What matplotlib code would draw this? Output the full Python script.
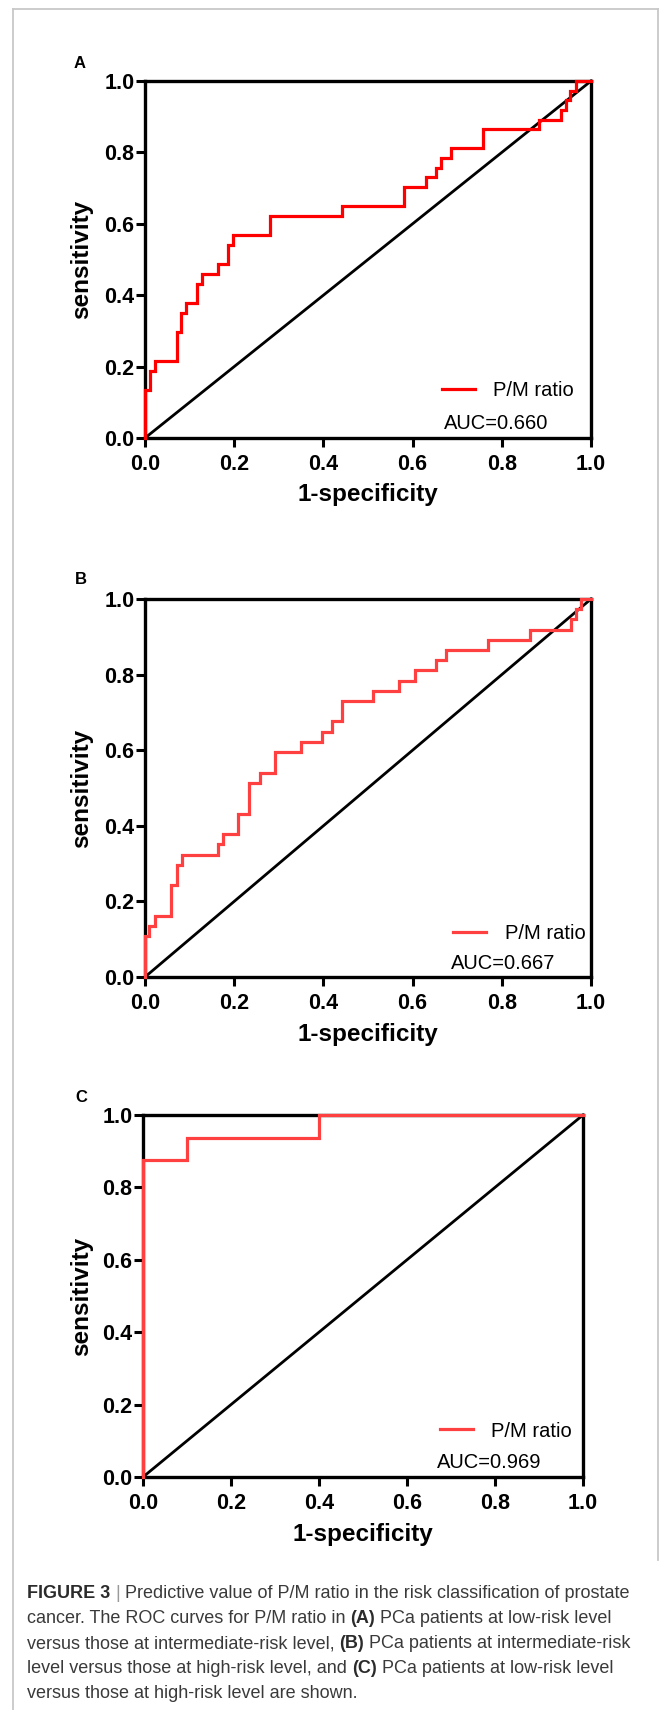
import numpy as np
import matplotlib.pyplot as plt
from matplotlib import font_manager
from matplotlib.lines import Line2D

plt.rcParams['font.family'] = ['Liberation Sans', 'DejaVu Sans']

# ROC points (1-specificity, sensitivity)
fpr_a = [0, 0, 0.012, 0.023, 0.072, 0.081, 0.093, 0.117, 0.127, 0.164, 0.187, 0.197, 0.280,
         0.442, 0.581, 0.629, 0.652, 0.663, 0.687, 0.757, 0.884, 0.932, 0.944, 0.954, 0.967, 1.0]
tpr_a = [0, 0.135, 0.189, 0.216, 0.297, 0.351, 0.378, 0.432, 0.459, 0.486, 0.541, 0.568, 0.622,
         0.649, 0.703, 0.730, 0.757, 0.784, 0.811, 0.865, 0.892, 0.919, 0.946, 0.973, 1.0, 1.0]

fpr_b = [0, 0, 0.010, 0.022, 0.059, 0.071, 0.083, 0.164, 0.174, 0.208, 0.234, 0.257, 0.291, 0.350,
         0.396, 0.419, 0.442, 0.512, 0.570, 0.605, 0.652, 0.674, 0.768, 0.863, 0.955, 0.967, 0.978, 1.0]
tpr_b = [0, 0.108, 0.135, 0.162, 0.243, 0.297, 0.324, 0.351, 0.378, 0.432, 0.514, 0.541, 0.595, 0.622,
         0.649, 0.676, 0.730, 0.757, 0.784, 0.811, 0.838, 0.865, 0.892, 0.919, 0.946, 0.973, 1.0, 1.0]

fpr_c = [0, 0, 0.1, 0.4, 1.0]
tpr_c = [0, 0.875, 0.9375, 1.0, 1.0]

auc_text = ['AUC=0.660', 'AUC=0.667', 'AUC=0.969']
panel_letters = ['A', 'B', 'C']
ticks = [0.0, 0.2, 0.4, 0.6, 0.8, 1.0]

W, H = 663, 1710
fig = plt.figure(figsize=(W / 100, H / 100), dpi=100)

# axes boxes in pixels: left, top, right, bottom
boxes = [(145, 81, 591, 438), (145, 599, 591, 977), (143, 1115, 583, 1477)]
reds = ['#ff0000', '#ff4040', '#ff4040']
legend_pos = [(0.666, 0.134), (0.691, 0.114), (0.675, 0.127)]
auc_pos = [(0.670, 0.042), (0.686, 0.037), (0.668, 0.041)]
letter_pos = [(80, 64), (81, 580), (81, 1097)]
curves = [(fpr_a, tpr_a), (fpr_b, tpr_b), (fpr_c, tpr_c)]

for i in range(3):
    l, t, r, b = boxes[i]
    ax = fig.add_axes([l / W, 1 - b / H, (r - l) / W, (b - t) / H])
    fpr, tpr = curves[i]
    ax.plot([0, 1], [0, 1], color='black', lw=2.0, zorder=2.8, clip_on=False)
    ax.plot(fpr, tpr, drawstyle='steps-post', color=reds[i], lw=2.3, zorder=3,
            clip_on=False, label='P/M ratio', solid_joinstyle='miter')
    ax.set_xlim(0, 1)
    ax.set_ylim(0, 1)
    ax.set_xticks(ticks)
    ax.set_yticks(ticks)
    ax.set_xticklabels(['%.1f' % v for v in ticks])
    ax.set_yticklabels(['%.1f' % v for v in ticks])
    for s in ax.spines.values():
        s.set_linewidth(2.4)
    ax.tick_params(direction='out', length=6.5, width=2.2, labelsize=15.5)
    ax.tick_params(axis='x', pad=5)
    ax.tick_params(axis='y', pad=1)
    for lab in ax.get_xticklabels() + ax.get_yticklabels():
        lab.set_fontweight('bold')

    ax.set_xlabel('1-specificity', fontsize=17.5, fontweight='bold')
    ax.set_ylabel('sensitivity', fontsize=17.5, fontweight='bold')
    ax.xaxis.set_label_coords(0.5, -57 / (b - t))
    ax.xaxis.label.set_va('center')
    ax.yaxis.set_label_coords((82 - l) / (r - l), 0.5)
    ax.yaxis.label.set_va('center')

    ax.legend(loc='center left', bbox_to_anchor=legend_pos[i], frameon=False,
              fontsize=14.5, handlelength=1.65, handletextpad=0.9, borderpad=0,
              borderaxespad=0)
    ax.text(auc_pos[i][0], auc_pos[i][1], auc_text[i], transform=ax.transAxes,
            fontsize=14.5, ha='left', va='center')

    fig.text(letter_pos[i][0] / W, 1 - letter_pos[i][1] / H, panel_letters[i],
             fontsize=12, fontweight='bold', ha='center', va='center')

# light frame around the figure, left bar running down beside the caption
fc = '#c8c8c8'
fig.add_artist(Line2D([12.7 / W, 12.7 / W], [1 - 9.3 / H, 0], color=fc, lw=1.3))
fig.add_artist(Line2D([12.7 / W, 658 / W], [1 - 9.3 / H, 1 - 9.3 / H], color=fc, lw=1.3))
fig.add_artist(Line2D([658 / W, 658 / W], [1 - 9.3 / H, 1 - 1560 / H], color=fc, lw=1.3))

# caption
try:
    font_manager.findfont('Liberation Sans Narrow', fallback_to_default=False)
    cap_family = 'Liberation Sans Narrow'
except Exception:
    cap_family = 'Liberation Sans'

cap_lines = [
    [('FIGURE 3', True, '#2b2b2b'), ('|', False, '#9a9a9a'),
     ('Predictive value of P/M ratio in the risk classification of prostate', False, '#3a3a3a')],
    [('cancer. The ROC curves for P/M ratio in', False, '#3a3a3a'), ('(A)', True, '#2b2b2b'),
     ('PCa patients at low-risk level', False, '#3a3a3a')],
    [('versus those at intermediate-risk level,', False, '#3a3a3a'), ('(B)', True, '#2b2b2b'),
     ('PCa patients at intermediate-risk', False, '#3a3a3a')],
    [('level versus those at high-risk level, and', False, '#3a3a3a'), ('(C)', True, '#2b2b2b'),
     ('PCa patients at low-risk level', False, '#3a3a3a')],
    [('versus those at high-risk level are shown.', False, '#3a3a3a')],
]

renderer = fig.canvas.get_renderer()


def text_w(s, size, bold):
    t = fig.text(0, 0, s, fontsize=size, family=cap_family,
                 fontweight='bold' if bold else 'normal')
    w = t.get_window_extent(renderer=renderer).width
    t.remove()
    return w


def line_w(runs, size):
    sp = text_w('a a', size, False) - text_w('aa', size, False)
    return sum(text_w(s, size, bd) for s, bd, c in runs) + sp * (len(runs) - 1)


size = 12.0 * 603 / line_w(cap_lines[0], 12.0)
space = text_w('a a', size, False) - text_w('aa', size, False)

x0 = 27
for k, runs in enumerate(cap_lines):
    x = x0
    y = 1598 + 25 * k
    for s, bd, c in runs:
        fig.text(x / W, 1 - y / H, s, fontsize=size, family=cap_family, color=c,
                 fontweight='bold' if bd else 'normal', ha='left', va='baseline')
        x += text_w(s, size, bd) + space

fig.savefig('out.png', dpi=100)
